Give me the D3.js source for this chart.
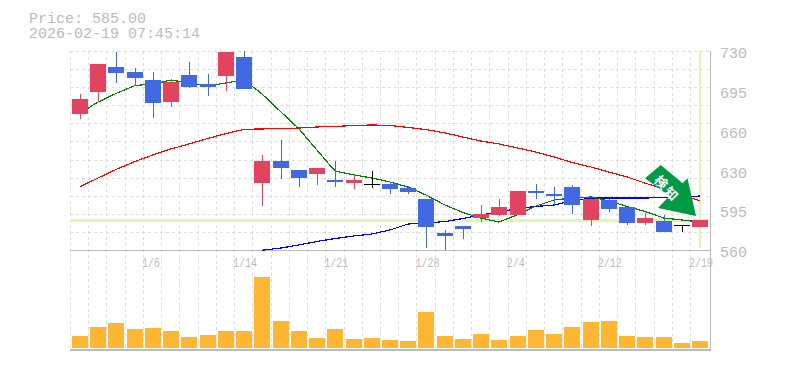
<!DOCTYPE html>
<html>
<head>
<meta charset="utf-8">
<script src="https://d3js.org/d3.v7.min.js"></script>
<style>
  html, body { margin: 0; padding: 0; background: #fff; }
  svg { display: block; }
  .mono { font-family: "Liberation Mono", monospace; fill: #bbb; }
</style>
</head>
<body>
<div id="chart"></div>
<script>
const priceLabel = "Price: 585.00";
const timeLabel = "2026-02-19 07:45:14";
const lastPrice = 585;

const dates = ["12/29","12/30","1/4","1/5","1/6","1/7","1/8","1/9","1/13","1/14","1/15","1/16","1/19","1/20","1/21","1/22","1/23","1/26","1/27","1/28","1/29","1/30","2/2","2/3","2/4","2/5","2/6","2/9","2/10","2/12","2/13","2/16","2/17","2/18","2/19"];
const opens  = [676,695,716.5,712,705,686.5,709.5,702,708.5,725,617,636,628.5,625,620,617,616,616.5,613,603.5,574.5,580.5,587.5,590,590,610.5,608,614,585.5,603,596.5,583,585,581,580];
const highs  = [693.5,719,729,715.5,712,706,720.5,710.5,729,730,641,654,628.5,630,636,624,627.5,618,614.5,603.5,577,580.5,598.5,603.5,610.5,616.5,614,615.5,603.5,603.5,596.5,592,590,581,585.5];
const lows   = [672,686.5,703,700,673,682,698.5,691.5,695.5,697.5,597.5,620.5,614,615.5,614,612,613,608,608,561.5,560,569.5,583.5,589,590,603.5,597.5,590.5,580.5,592.5,581.5,581.5,575.5,575.5,580];
const closes = [689,719,711,707,685.5,703.5,699.5,699.5,729,697.5,636,630,621.5,630,618,620,616,612,609.5,579.5,572,578,591,596.5,610.5,608.5,606,598.5,603.5,595,583,587.5,575.5,581,585.5];
const volumes = [12,21,25,19,20,17,11,13,17,17,71,27,17,10,19,9,10,8,7,36,12,9,14,8,12,18,14,21,26,27,12,11,11,5,7];

const maShort = [677,686.4,693.7,700.5,701.8,705.2,702.7,700.1,702.7,705.2,693.3,677.9,663.4,645.4,627.5,624.1,621.5,618.1,613.8,607,598.4,592,587.3,583.9,590.3,597.6,602.7,604.4,605.3,601.9,597.2,592.9,587.3,585.6,583.9];
const maMid = [614,621.5,628.8,635.6,641.2,646.3,650.6,655.3,659.5,663.1,663.4,663.8,664.2,665.1,665.5,666.4,666.8,666.4,664.7,662.9,660,656.5,653.1,650.6,647.1,643.7,639.5,634.8,630.9,626.6,622.4,617.2,612.1,607,601.9];
const maLong = [null,null,null,null,null,null,null,null,null,null,559.8,561.7,564.3,567.3,569.8,572,573.7,577.1,582.2,583.1,584.3,586.9,589.9,592.5,595.5,597.2,598.4,601.9,604.4,604.4,604.4,604.4,604.9,605.3,606.1];

const yTickValues = [730,696,662,628,594,560];
const yTickLabels = ["730","695","660","630","595","560"];
const xTickDates = ["1/6","1/14","1/21","1/28","2/4","2/12","2/19"];
const signalText = ["検","知"];

const svgWidth = 785, svgHeight = 370;
const plotLeft = 70.88, plotRight = 709.12, plotTop = 51, priceBottom = 250, volBase = 348, panelBottom = 350;

const svg = d3.select("#chart").append("svg")
  .attr("width", svgWidth)
  .attr("height", svgHeight);

const x = d3.scaleBand().domain(dates).range([plotLeft, plotRight]).paddingInner(0.12).paddingOuter(0.06);
const y = d3.scaleLinear().domain([560, 730]).range([priceBottom, plotTop]);
const yVol = d3.scaleLinear().domain([0, d3.max(volumes)]).range([volBase, 277]);
const cx = d => Math.round(x(d) + x.bandwidth() / 2);

svg.append("defs").append("clipPath").attr("id", "plotClip")
  .append("rect").attr("x", 70).attr("y", plotTop).attr("width", 640).attr("height", priceBottom - plotTop + 1);

// grid
const grid = svg.append("g").attr("stroke", "#ddd").attr("stroke-width", 1)
  .attr("stroke-dasharray", "3,3").attr("shape-rendering", "crispEdges");
d3.range(0, dates.length).forEach(i => {
  const gx = Math.floor(plotLeft - 0.4 + i * x.step()) + 0.5;
  grid.append("line").attr("x1", gx).attr("x2", gx).attr("y1", plotTop).attr("y2", panelBottom);
});
d3.range(0, 11).forEach(i => {
  const gy = Math.round(plotTop + i * (priceBottom - plotTop) / 11) + 0.5;
  grid.append("line").attr("x1", 70).attr("x2", 710).attr("y1", gy).attr("y2", gy);
});

// frame
const frame = svg.append("g").attr("stroke", "#bbb").attr("shape-rendering", "crispEdges");
frame.append("line").attr("x1", 70).attr("x2", 710).attr("y1", 250.5).attr("y2", 250.5);
frame.append("line").attr("x1", 70).attr("x2", 711).attr("y1", 350).attr("y2", 350).attr("stroke-width", 2);
frame.append("line").attr("x1", 710.5).attr("x2", 710.5).attr("y1", plotTop).attr("y2", 350);

// last price highlight
const hl = svg.append("g").attr("stroke", "#e4f5ae").attr("shape-rendering", "crispEdges");
hl.append("line").attr("x1", 70).attr("x2", 710)
  .attr("y1", Math.floor(y(lastPrice)) + 0.5).attr("y2", Math.floor(y(lastPrice)) + 0.5).attr("stroke-width", 3);
hl.append("line").attr("x1", cx("2/19")).attr("x2", cx("2/19")).attr("y1", plotTop).attr("y2", 248).attr("stroke-width", 2);

// moving averages
const lines = svg.append("g").attr("clip-path", "url(#plotClip)");
[[maLong, "#0000ff"], [maMid, "#ff0000"], [maShort, "#008000"]].forEach(([vals, color]) => {
  const line = d3.line()
    .defined(d => d != null)
    .x((d, i) => cx(dates[i]))
    .y(d => y(d));
  lines.append("path").attr("d", line(vals)).attr("fill", "none")
    .attr("stroke", color).attr("stroke-width", 1.2).attr("shape-rendering", "crispEdges");
});

// candles
const candleColor = i => closes[i] > opens[i] ? "#e2435f" : closes[i] < opens[i] ? "#4169e1" : "#000";
const candles = svg.append("g").attr("shape-rendering", "crispEdges");
dates.forEach((d, i) => {
  candles.append("line")
    .attr("x1", cx(d) + 0.5).attr("x2", cx(d) + 0.5)
    .attr("y1", Math.round(y(highs[i]))).attr("y2", Math.round(y(lows[i])))
    .attr("stroke", candleColor(i));
  const bodyTop = Math.round(y(Math.max(opens[i], closes[i])));
  const bodyBottom = Math.round(y(Math.min(opens[i], closes[i])));
  candles.append("rect")
    .attr("x", cx(d) - 8).attr("width", 16)
    .attr("y", bodyTop).attr("height", Math.max(1, bodyBottom - bodyTop))
    .attr("fill", candleColor(i));
});

// volume
svg.append("g").attr("shape-rendering", "crispEdges").selectAll("rect")
  .data(volumes).enter().append("rect")
  .attr("x", (d, i) => cx(dates[i]) - 8)
  .attr("width", 16)
  .attr("y", d => Math.round(yVol(d)))
  .attr("height", d => volBase - Math.round(yVol(d)))
  .attr("fill", "#ffb733");

// axes
const yAxis = d3.axisRight(y).tickValues(yTickValues).tickSize(0).tickPadding(10)
  .tickFormat((d, i) => yTickLabels[i]);
const yG = svg.append("g").attr("transform", "translate(710,0)").call(yAxis);
yG.select(".domain").remove();
yG.selectAll("text").attr("class", "mono").attr("font-size", 15).attr("dy", "0.45em").attr("fill", "#bbb");

const xAxis = d3.axisBottom(x).tickValues(xTickDates).tickSize(0).tickPadding(0);
const xG = svg.append("g").attr("transform", "translate(0,251)").call(xAxis);
xG.select(".domain").remove();
xG.selectAll("text").attr("class", "mono").attr("font-size", 12).attr("text-anchor", "start")
  .attr("dx", -11).attr("y", 0).attr("dy", 15.5).attr("fill", "#bbb")
  .attr("textLength", d => d.length * 6).attr("lengthAdjust", "spacingAndGlyphs");

// header
svg.append("text").attr("class", "mono").attr("x", 29).attr("y", 23).attr("font-size", 15).text(priceLabel);
svg.append("text").attr("class", "mono").attr("x", 29).attr("y", 38).attr("font-size", 15).text(timeLabel);

// signal arrow
const arrow = svg.append("g");
arrow.append("polygon")
  .attr("points", "660.7,165 645,178.3 669.3,196 658,208 696,216 687.5,178.3 682.7,183.3")
  .attr("fill", "#009944");
signalText.forEach((t, i) => {
  arrow.append("text")
    .attr("transform", `translate(${661.7 + i * 10},${181.7 + i * 11.6}) rotate(45)`)
    .attr("text-anchor", "middle")
    .attr("dominant-baseline", "central")
    .attr("font-family", "'Noto Sans CJK JP'")
    .attr("font-weight", 700)
    .attr("font-size", 13)
    .attr("fill", "#fff")
    .text(t);
});
</script>
</body>
</html>
